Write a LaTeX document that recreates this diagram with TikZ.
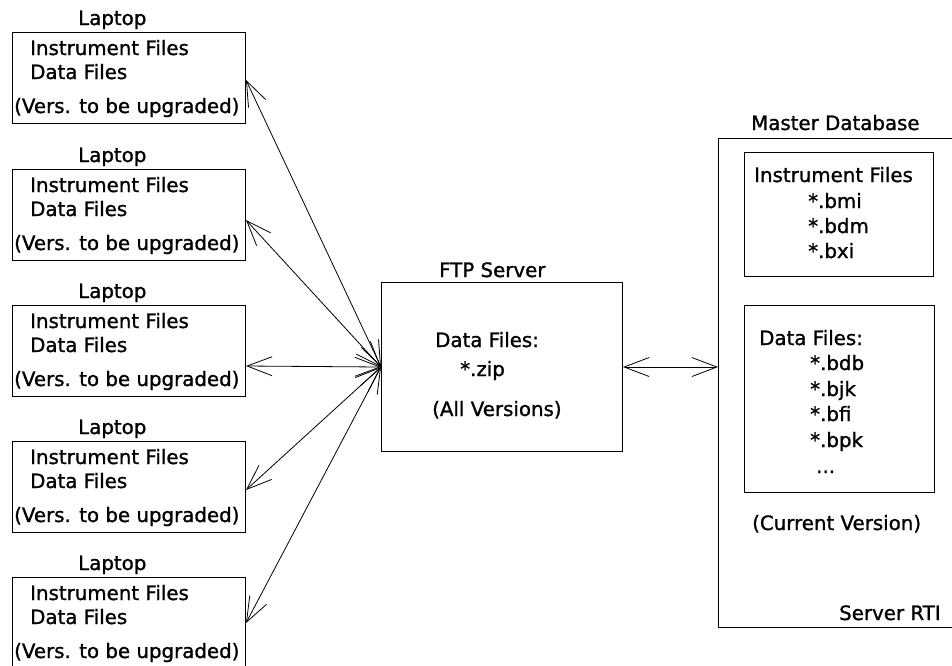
\documentclass[tikz,border=0pt]{standalone}
\usepackage{fontspec}
\setmainfont{DejaVu Sans}[RawFeature={embolden=1.2}]
\usetikzlibrary{arrows.meta,positioning,calc}
\tikzset{
  boxframe/.style={draw, line width=1pt, inner sep=0pt, anchor=north west},
  boxtext/.style={anchor=base west, inner sep=0pt, font=\fontsize{19.8}{23}\selectfont},
  link/.style={{Straight Barb[length=25pt,width=19pt]}-{Straight Barb[length=25pt,width=19pt]},
               line width=0.8pt},
}

\begin{document}
\begin{tikzpicture}[x=1pt,y=-1pt]
  \clip (0,0) rectangle (952,665);

  % laptops on the left
  \foreach \i/\top/\tip in {1/32/80, 2/169/220, 3/305/366, 4/441/490, 5/577/623} {
    \node[boxframe, minimum width=233pt, minimum height=91pt] (lap\i) at (12,\top) {};
    \node[boxtext] (laplabel\i) at (78,{\top-7}) {Laptop};
    \node[boxtext] (lapinst\i) at (30,{\top+23}) {Instrument Files};
    \node[boxtext] (lapdata\i) at (30,{\top+47}) {Data Files};
    \node[boxtext] (lapvers\i) at (14,{\top+81}) {(Vers. to be upgraded)};
    \coordinate (tip\i) at ($(lap\i.north east)+(0,{\tip-\top})$);
  }

  % FTP server
  \node[boxframe, minimum width=241pt, minimum height=169pt] (ftp) at (381,282) {};
  \node[boxtext] (ftplabel) at (439,277) {FTP Server};
  \node[boxtext] (ftpdata) at (435,347) {Data Files:};
  \node[boxtext] (ftpzip) at (460,376) {*.zip};
  \node[boxtext] (ftpvers) at (432,416) {(All Versions)};

  % master database
  \node[boxframe, minimum width=260pt, minimum height=489pt] (master) at (718,138) {};
  \node[boxtext] (masterlabel) at (751,130) {Master Database};
  \node[boxframe, minimum width=189pt, minimum height=124pt] (instbox) at (744,152) {};
  \node[boxtext] (instlabel) at (754,182) {Instrument Files};
  \foreach \ext/\y in {bmi/208, bdm/233, bxi/258}
    \node[boxtext] (inst\ext) at (808,\y) {*.\ext};
  \node[boxframe, minimum width=190pt, minimum height=187pt] (databox) at (744,305) {};
  \node[boxtext] (datalabel) at (759,345) {Data Files:};
  \foreach \ext/\y in {bdb/370, bjk/396, bfi/421, bpk/447}
    \node[boxtext] (data\ext) at (810,\y) {*.\ext};
  \node[boxtext] (datamore) at (816,473) {...};
  \node[boxtext] (mastervers) at (752,530) {(Current Version)};
  \node[boxtext] (masterrti) at (839,620) {Server RTI};

  % connectors
  \foreach \i in {1,...,5}
    \draw[link] (ftp.west) -- (tip\i);
  \draw[link] (ftp.east) -- (ftp.east -| master.west);
\end{tikzpicture}
\end{document}
